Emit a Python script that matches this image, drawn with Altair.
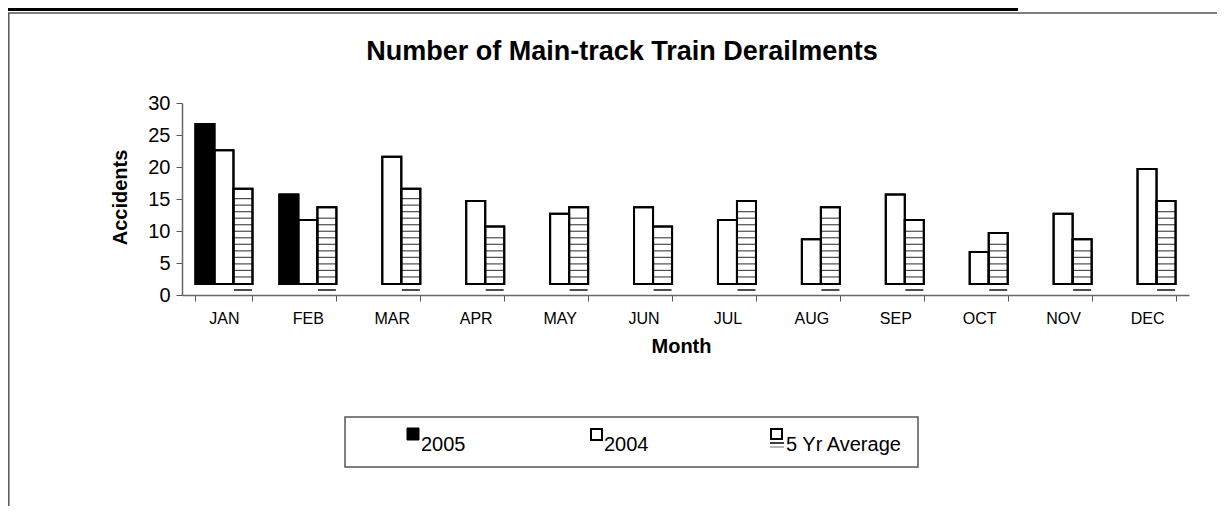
import altair as alt
import pandas as pd

# ---------------- data ----------------
months = ["JAN", "FEB", "MAR", "APR", "MAY", "JUN", "JUL", "AUG", "SEP", "OCT", "NOV", "DEC"]
series = ["2005", "2004", "5 Yr Average"]
v2005 = [26.7, 15.7]  # only JAN and FEB reported
v2004 = [22.6, 11.7, 21.6, 14.7, 12.7, 13.7, 11.7, 8.7, 15.7, 6.7, 12.7, 19.7]
v5yr = [16.6, 13.7, 16.6, 10.7, 13.7, 10.7, 14.7, 13.7, 11.7, 9.7, 8.7, 14.7]
bar_base = 1.7          # bars in the original are drawn floating above zero
underline_level = 0.78  # the small "=" mark under each 5-yr bar
y_ticks = [0, 5, 10, 15, 20, 25, 30]
title_text = "Number of Main-track Train Derailments"
y_title = "Accidents"
x_title = "Month"

rows = []
for m, v in zip(months, v2005):
    rows.append({"month": m, "series": series[0], "value": v, "base": bar_base})
for m, v in zip(months, v2004):
    rows.append({"month": m, "series": series[1], "value": v, "base": bar_base})
for m, v in zip(months, v5yr):
    rows.append({"month": m, "series": series[2], "value": v, "base": bar_base})
df = pd.DataFrame(rows)

# horizontal hatch lines for the 5-yr average bars (fill pattern)
stripe_rows = []
for m, v in zip(months, v5yr):
    s = bar_base + 1.12
    while s <= v - 0.9:
        stripe_rows.append({"month": m, "series": series[2], "value": s})
        s += 1.02
stripes_df = pd.DataFrame(stripe_rows)
under_df = pd.DataFrame({"month": months, "series": [series[2]] * len(months),
                         "value": [underline_level] * len(months)})
one = pd.DataFrame({"k": [0]})

# ---------------- layout (page pixel coordinates) ----------------
X0, Y0 = 182, 103
W, H = 1007, 192
FONT = "Liberation Sans"


def px(x):
    return x - X0


def py(y):
    return y - Y0


x_axis = alt.Axis(title=x_title, labelAngle=0, labelFontSize=16, labelFont=FONT,
                  labelColor="black", labelBaseline="middle", labelPadding=17,
                  tickBand="extent", tickSize=6, tickColor="#555", domainColor="#666",
                  domainWidth=1.5, titleFont=FONT, titleFontSize=20, titleFontWeight="bold",
                  titleColor="black", titleX=499, titleY=51, titleBaseline="middle",
                  titleAlign="center", grid=False, labelOverlap=False)
y_axis = alt.Axis(title=y_title, values=y_ticks, tickCount=7, labelFontSize=20, labelFont=FONT,
                  labelColor="black", labelPadding=6, tickSize=6, tickColor="#555",
                  domainColor="#666", domainWidth=1.5, grid=False, labelOverlap=False,
                  labelFlush=False,
                  titleFont=FONT, titleFontSize=20, titleFontWeight="bold", titleColor="black",
                  titleAngle=270, titleX=-62, titleY=94, titleAlign="center",
                  titleBaseline="middle")
x_scale = alt.Scale(domain=months, paddingInner=0.32, paddingOuter=0.16)
y_scale = alt.Scale(domain=[0, 30], nice=False, zero=True)
xo_scale = alt.Scale(domain=series)


def enc_x():
    return alt.X("month:N", sort=months, scale=x_scale, axis=x_axis)


def enc_xo():
    return alt.XOffset("series:N", scale=xo_scale)


def enc_y():
    return alt.Y("value:Q", scale=y_scale, axis=y_axis)


bars = alt.Chart(df).mark_bar(stroke="black", strokeWidth=2).encode(
    x=enc_x(), xOffset=enc_xo(), y=enc_y(), y2="base:Q",
    fill=alt.Fill("series:N", scale=alt.Scale(domain=series, range=["black", "white", "white"]),
                  legend=None),
)

stripes = alt.Chart(stripes_df).mark_tick(color="black", thickness=1.2, size=19, orient="horizontal").encode(
    x=enc_x(), xOffset=enc_xo(), y=enc_y(),
)

outlines = alt.Chart(df).mark_bar(fill=None, fillOpacity=0, stroke="black", strokeWidth=2).encode(
    x=enc_x(), xOffset=enc_xo(), y=enc_y(), y2="base:Q",
)

underline = alt.Chart(under_df).mark_tick(color="black", thickness=2, size=18, orient="horizontal").encode(
    x=enc_x(), xOffset=enc_xo(), y=enc_y(),
)

# ---------------- decorations: frame, title, legend ----------------
top_bar = alt.Chart(one).mark_rule(color="black", strokeWidth=3).encode(
    x=alt.value(px(8)), x2=alt.value(px(1018)), y=alt.value(py(9.5)))
frame_top = alt.Chart(one).mark_rule(color="#555", strokeWidth=1.5).encode(
    x=alt.value(px(8)), x2=alt.value(px(1217)), y=alt.value(py(13)))
frame_left = alt.Chart(one).mark_rule(color="#555", strokeWidth=1.5).encode(
    x=alt.value(px(8.8)), y=alt.value(py(13)), y2=alt.value(py(506)))

title = alt.Chart(one).mark_text(font=FONT, fontSize=27, fontWeight="bold", color="black",
                                 align="center", baseline="middle").encode(
    x=alt.value(px(622)), y=alt.value(py(52)), text=alt.value(title_text))

legend_box = alt.Chart(one).mark_rect(fill="white", stroke="#555", strokeWidth=1.5).encode(
    x=alt.value(px(345)), x2=alt.value(px(918)), y=alt.value(py(417)), y2=alt.value(py(467)))

leg_sq1 = alt.Chart(one).mark_rect(fill="black", stroke="black", strokeWidth=1).encode(
    x=alt.value(px(407)), x2=alt.value(px(419)), y=alt.value(py(428)), y2=alt.value(py(440)))
leg_sq2 = alt.Chart(one).mark_rect(fill="white", stroke="black", strokeWidth=2).encode(
    x=alt.value(px(591)), x2=alt.value(px(602)), y=alt.value(py(429)), y2=alt.value(py(440)))
leg_sq3 = alt.Chart(one).mark_rect(fill="white", stroke="black", strokeWidth=2).encode(
    x=alt.value(px(771)), x2=alt.value(px(782)), y=alt.value(py(429)), y2=alt.value(py(439)))
leg_sq3_line = alt.Chart(one).mark_rule(color="black", strokeWidth=1.5).encode(
    x=alt.value(px(770)), x2=alt.value(px(784)), y=alt.value(py(443)))
leg_sq3_line2 = alt.Chart(one).mark_rule(color="#888", strokeWidth=1.2).encode(
    x=alt.value(px(770)), x2=alt.value(px(784)), y=alt.value(py(447)))


def leg_text(label, x):
    return alt.Chart(one).mark_text(font=FONT, fontSize=20, color="black", align="left",
                                    baseline="alphabetic").encode(
        x=alt.value(px(x)), y=alt.value(py(451)), text=alt.value(label))


chart = alt.layer(
    top_bar, frame_top, frame_left, title,
    bars, stripes, outlines, underline,
    legend_box, leg_sq1, leg_sq2, leg_sq3, leg_sq3_line, leg_sq3_line2,
    leg_text(series[0], 421), leg_text(series[1], 604), leg_text(series[2], 786),
).properties(
    width=W, height=H,
    background="white",
    padding={"left": X0 - 8, "top": Y0 - 8, "right": 1217 - (X0 + W), "bottom": 506 - (Y0 + H)},
    autosize=alt.AutoSizeParams(type="none"),
).configure_view(stroke=None, strokeWidth=0)

chart.save("out.html", embed_options={"renderer": "svg", "actions": False})
